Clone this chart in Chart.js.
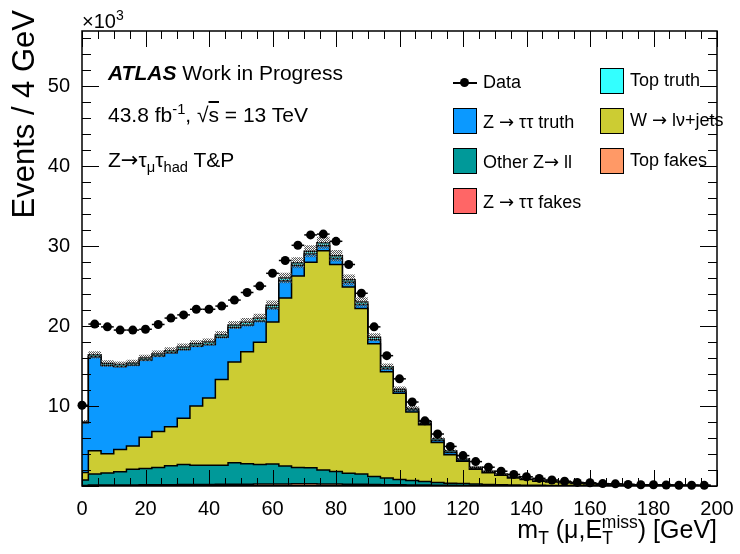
<!DOCTYPE html>
<html><head><meta charset="utf-8">
<script src="https://cdn.jsdelivr.net/npm/chart.js@4.4.1/dist/chart.umd.min.js"></script>
<style>
html,body{margin:0;padding:0;background:#fff;}
#wrap{position:relative;width:740px;height:554px;overflow:hidden;font-family:'Liberation Sans',Arial,Helvetica,sans-serif;color:#000;}
canvas{position:absolute;left:0;top:0;}
.t{position:absolute;white-space:nowrap;line-height:1;}
.t sub,.t sup{font-size:70%;line-height:0;position:relative;vertical-align:baseline;}
.t sup{top:-0.55em;}
.t sub{top:0.35em;}
.ar{font-family:'DejaVu Sans',sans-serif;}
.box{position:absolute;width:24px;height:26px;border:1px solid #000;box-sizing:border-box;}
</style></head>
<body><div id="wrap">
<canvas id="c" width="740" height="554"></canvas>
<div class="t" style="left:82px;top:11px;font-size:20px;">×10<sup>3</sup></div>
<div class="t" style="left:108px;top:62px;font-size:21px;"><b><i>ATLAS</i></b> Work in Progress</div>
<div class="t" style="left:108px;top:104px;font-size:21px;">43.8 fb<sup>-1</sup>, √<span style="text-decoration:overline">s</span> = 13 TeV</div>
<div class="t" style="left:108px;top:149px;font-size:21px;">Z<span class="ar">→</span>τ<sub>μ</sub>τ<sub>had</sub> T&amp;P</div>
<div id="ytitle" class="t" style="left:8px;top:310px;width:300px;text-align:right;font-size:31px;transform-origin:0 0;transform:rotate(-90deg);">Events / 4 GeV</div>
<div class="t" style="right:23px;top:517px;font-size:25px;">m<sub>T</sub> (μ,E<sub>T</sub><sup style="margin-left:-11px">miss</sup>) [GeV]</div>
<!-- legend -->
<div style="position:absolute;left:453px;top:82px;width:24px;height:1.5px;background:#000;"></div>
<div style="position:absolute;left:460px;top:78px;width:9px;height:9px;border-radius:50%;background:#000;"></div>
<div class="t" style="left:483px;top:73px;font-size:18px;">Data</div>
<div class="box" style="left:453px;top:108px;background:#0b99ff;"></div>
<div class="t" style="left:483px;top:113px;font-size:18px;">Z <span class="ar">→</span> ττ truth</div>
<div class="box" style="left:453px;top:148px;background:#009999;"></div>
<div class="t" style="left:483px;top:153px;font-size:18px;">Other Z<span class="ar">→</span> ll</div>
<div class="box" style="left:453px;top:188px;background:#ff6666;"></div>
<div class="t" style="left:483px;top:193px;font-size:18px;">Z <span class="ar">→</span> ττ fakes</div>
<div class="box" style="left:600px;top:68px;background:#33ffff;"></div>
<div class="t" style="left:630px;top:71px;font-size:18px;">Top truth</div>
<div class="box" style="left:600px;top:108px;background:#cccc33;"></div>
<div class="t" style="left:630px;top:111px;font-size:18px;">W <span class="ar">→</span> lν+jets</div>
<div class="box" style="left:600px;top:148px;background:#ff9966;"></div>
<div class="t" style="left:630px;top:151px;font-size:18px;">Top fakes</div>
</div>
<script>
// ---- data (values in units of 10^3 events / 4 GeV) ----
const binCenters = [0,4,8,12,16,20,24,28,32,36,40,44,48,52,56,60,64,68,72,76,80,84,88,92,96,100,104,108,112,116,120,124,128,132,136,140,144,148,152,156,160,164,168,172,176,180,184,188,192,196];
const binWidth = 4;
const dataValues = [10.1,20.25,19.9,19.5,19.5,19.6,20.2,21.0,21.4,22.1,22.1,22.5,23.25,24.2,25.0,26.6,28.2,30.1,31.4,31.5,30.6,27.7,24.1,19.9,16.3,13.4,10.5,8.15,6.5,4.95,3.8,3.05,2.35,1.85,1.45,1.15,0.95,0.75,0.6,0.45,0.4,0.3,0.27,0.2,0.15,0.15,0.12,0.1,0.1,0.08];
const zttFakes = [0.02,0.04,0.04,0.04,0.04,0.04,0.04,0.04,0.04,0.04,0.04,0.04,0.04,0.04,0.04,0.04,0.04,0.04,0.04,0.04,0.04,0.04,0.04,0.04,0.04,0.04,0.03,0.03,0.02,0.02,0.02,0.02,0.015,0.015,0.01,0.01,0.01,0.01,0.005,0.005,0.005,0.005,0.005,0.005,0.005,0,0,0,0,0];
const topFakes = [0.03,0.07,0.08,0.09,0.10,0.11,0.12,0.13,0.14,0.15,0.16,0.17,0.18,0.19,0.20,0.21,0.22,0.23,0.23,0.22,0.21,0.19,0.17,0.16,0.13,0.11,0.10,0.08,0.07,0.06,0.05,0.04,0.035,0.03,0.03,0.025,0.02,0.02,0.02,0.015,0.015,0.01,0.01,0.01,0.01,0.01,0.01,0.01,0.005,0.005];
const otherZll = [0.7,1.4,1.5,1.65,1.95,2.05,2.15,2.35,2.5,2.4,2.4,2.4,2.7,2.55,2.45,2.5,2.25,2.05,2.0,1.75,1.55,1.35,1.3,1.0,0.83,0.65,0.57,0.44,0.36,0.27,0.23,0.19,0.15,0.1,0.08,0.065,0.05,0.045,0.04,0.03,0.025,0.025,0.02,0.02,0.02,0.01,0.01,0.01,0.015,0.015];
const wJets = [0.95,2.9,2.4,2.8,2.9,3.9,4.5,4.9,5.8,7.4,8.4,10.7,12.6,14.0,15.3,17.75,21.0,23.95,25.7,27.4,25.9,23.3,20.7,16.6,13.3,10.8,8.55,7.1,5.0,3.55,2.8,1.85,1.45,1.2,0.88,0.7,0.52,0.43,0.34,0.25,0.21,0.16,0.14,0.11,0.09,0.08,0.06,0.05,0.04,0.03];
const zttTruth = [6.2,11.75,11.05,10.35,10.15,9.65,9.45,9.25,8.6,7.5,6.7,5.3,4.3,3.35,2.65,1.75,2.15,1.3,1.05,0.65,0.75,0.6,0.5,0.5,0.35,0.25,0.25,0.2,0.25,0.3,0.15,0.13,0.1,0.07,0.12,0.08,0.08,0.05,0.05,0.05,0.03,0.03,0.02,0.02,0.01,0.01,0.01,0.01,0.01,0.01];
const topTruth = [0.1,0.25,0.25,0.25,0.25,0.25,0.25,0.25,0.3,0.3,0.3,0.3,0.3,0.35,0.35,0.35,0.35,0.35,0.35,0.35,0.35,0.3,0.3,0.3,0.25,0.25,0.2,0.2,0.2,0.2,0.15,0.12,0.1,0.08,0.08,0.07,0.07,0.05,0.05,0.05,0.04,0.03,0.03,0.02,0.02,0.02,0.02,0.01,0.01,0.01];
const mcUnc = [0.25,0.45,0.4,0.4,0.4,0.4,0.42,0.42,0.45,0.45,0.45,0.48,0.5,0.52,0.55,0.6,0.65,0.7,0.75,0.75,0.72,0.68,0.6,0.5,0.42,0.35,0.3,0.25,0.2,0.17,0.14,0.12,0.1,0.08,0.07,0.06,0.05,0.04,0.035,0.03,0.025,0.02,0.02,0.015,0.015,0.01,0.01,0.01,0.01,0.01];
const xTickLabels = [0,20,40,60,80,100,120,140,160,180,200];
const yTickLabels = [10,20,30,40,50];

// ---- helpers ----
const lastEdge = binCenters[binCenters.length-1] + binWidth/2;
function pts(arr){
  const p = binCenters.map((c,i)=>({x:c,y:arr[i]}));
  p.push({x:lastEdge,y:arr[arr.length-1]});
  return p;
}
const comps = [zttFakes, topFakes, otherZll, wJets, zttTruth, topTruth];
const total = binCenters.map((c,i)=>comps.reduce((s,a)=>s+a[i],0));
const bandLo = total.map((t,i)=>t-mcUnc[i]);
const bandHi = total.map((t,i)=>t+mcUnc[i]);

function makePattern(){
  const pc = document.createElement('canvas'); pc.width=4; pc.height=4;
  const g = pc.getContext('2d');
  g.fillStyle='rgba(70,70,70,0.9)';
  g.fillRect(0,0,1,1); g.fillRect(2,0,1,1); g.fillRect(1,1,1,1); g.fillRect(3,1,1,1);
  g.fillRect(0,2,1,1); g.fillRect(2,2,1,1); g.fillRect(1,3,1,1); g.fillRect(3,3,1,1);
  g.fillStyle='rgba(180,180,180,0.6)';
  g.fillRect(1,0,1,1); g.fillRect(3,2,1,1);
  return g.createPattern(pc,'repeat');
}

function hist(label, arr, color, first){
  return {type:'line', label, data:pts(arr), stack:'mc', order:2,
    stepped:'middle', borderColor:'#000', borderWidth:1.5, backgroundColor:color,
    fill: first ? 'origin' : '-1', pointRadius:0, pointHoverRadius:0, tension:0};
}

const datasets = [
  hist('Z → ττ fakes', zttFakes, '#ff6666', true),
  hist('Top fakes', topFakes, '#ff9966', false),
  hist('Other Z→ ll', otherZll, '#009999', false),
  hist('W → lν+jets', wJets, '#cccc33', false),
  hist('Z → ττ truth', zttTruth, '#0b99ff', false),
  hist('Top truth', topTruth, '#33ffff', false),
  {type:'line', label:'bandLo', data:pts(bandLo), stack:'lo', order:1, stepped:'middle', borderWidth:0, borderColor:'rgba(0,0,0,0)', pointRadius:0, fill:false},
  {type:'line', label:'bandHi', data:pts(bandHi), stack:'hi', order:1, stepped:'middle', borderWidth:0, borderColor:'rgba(0,0,0,0)', pointRadius:0, fill:{target:6}, backgroundColor:makePattern()},
  {type:'line', label:'Data', data:binCenters.map((c,i)=>({x:c,y:dataValues[i]})), stack:'data', order:0, showLine:false,
    pointRadius:4.5, pointBackgroundColor:'#000', pointBorderColor:'#000', pointBorderWidth:0, clip:false}
];

const rootAxes = {
  id:'rootAxes',
  afterDatasetsDraw(chart){
    const {ctx, chartArea:a, scales:{x,y}} = chart;
    ctx.save();
    // data x-error bars
    ctx.strokeStyle='#000'; ctx.lineWidth=1.5;
    binCenters.forEach((c,i)=>{
      const py = y.getPixelForValue(dataValues[i]);
      const x1 = x.getPixelForValue(Math.max(c-binWidth/2, x.min));
      const x2 = x.getPixelForValue(Math.min(c+binWidth/2, x.max));
      ctx.beginPath(); ctx.moveTo(x1,py); ctx.lineTo(x2,py); ctx.stroke();
    });
    // frame
    ctx.lineWidth=1.5;
    ctx.strokeRect(a.left, a.top, a.right-a.left, a.bottom-a.top);
    ctx.lineWidth=1;
    ctx.beginPath();
    for(let v=0; v<=x.max+1e-9; v+=5){
      const px = Math.round(x.getPixelForValue(v))+0.5;
      const L = (v%20===0)?16:8;
      ctx.moveTo(px,a.bottom); ctx.lineTo(px,a.bottom-L);
      ctx.moveTo(px,a.top); ctx.lineTo(px,a.top+L);
    }
    for(let v=0; v<=y.max+1e-9; v+=2){
      const py = Math.round(y.getPixelForValue(v))+0.5;
      const L = (v%10===0)?17:9;
      ctx.moveTo(a.left,py); ctx.lineTo(a.left+L,py);
      ctx.moveTo(a.right,py); ctx.lineTo(a.right-L,py);
    }
    ctx.stroke();
    ctx.restore();
  }
};

Chart.defaults.font.family = "'Liberation Sans', Arial, Helvetica, sans-serif";
Chart.defaults.color = '#000';
new Chart(document.getElementById('c'), {
  type:'line',
  data:{datasets},
  options:{
    responsive:false, animation:false, devicePixelRatio:1,
    layout:{padding:{left:0,top:31,right:23,bottom:0}},
    plugins:{legend:{display:false}, tooltip:{enabled:false}, filler:{propagate:false}},
    scales:{
      x:{type:'linear', min:0, max:200,
        grid:{display:false}, border:{display:false},
        afterBuildTicks:(s)=>{ s.ticks = xTickLabels.map(v=>({value:v})); },
        afterFit:(s)=>{ s.height = 68; },
        ticks:{font:{size:20}, padding:3, maxRotation:0, autoSkip:false, color:'#000'}},
      y:{type:'linear', min:0, max:56.9, stacked:true,
        grid:{display:false}, border:{display:false},
        afterBuildTicks:(s)=>{ s.ticks = yTickLabels.map(v=>({value:v})); },
        afterFit:(s)=>{ s.width = 82; },
        ticks:{font:{size:20}, padding:4, color:'#000'}}
    }
  },
  plugins:[rootAxes]
});
</script>
</body></html>
